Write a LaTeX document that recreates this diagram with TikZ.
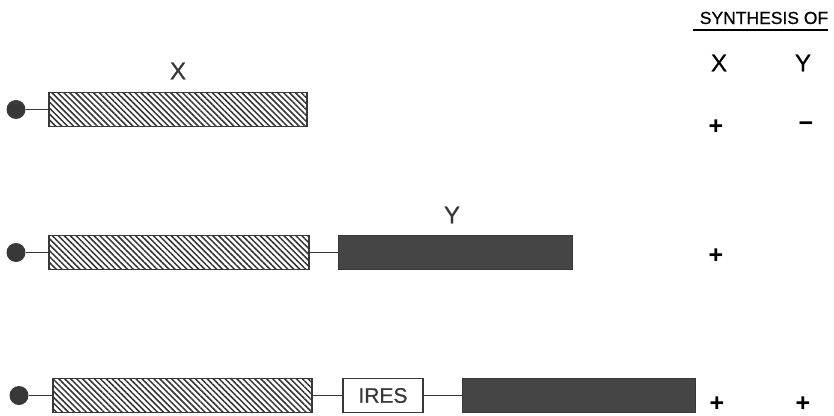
\documentclass[tikz,border=0pt]{standalone}
\usepackage{fontspec}
\setmainfont{Liberation Sans}
\newfontfamily\labelfont[FakeBold=0.6]{Liberation Sans}
\usetikzlibrary{patterns.meta}
\definecolor{ink}{gray}{0.22}
\definecolor{solidgene}{gray}{0.27}
\tikzset{
  x=1pt, y=-1pt,
  link/.style={draw=ink, line width=1.3pt},
  capdot/.style={circle, fill=ink, draw=none, minimum size=19pt, inner sep=0pt},
  hatchgene/.style={draw=ink, line width=1.1pt, inner sep=0pt,
    minimum height=34pt,
    pattern={Lines[angle=-45, distance=4.2pt, line width=1.5pt]},
    pattern color=black!80},
  solidbox/.style={draw=ink, fill=solidgene, line width=1pt, inner sep=0pt,
    minimum height=34pt},
  iresbox/.style={draw=ink, fill=white, line width=1.1pt, inner sep=0pt,
    minimum width=80pt, minimum height=34pt,
    font=\labelfont\fontsize{21}{23}\selectfont, text=ink},
  genelabel/.style={inner sep=0pt, font=\labelfont\fontsize{24}{26}\selectfont},
  headlabel/.style={inner sep=0pt, font=\labelfont\fontsize{17.5}{19}\selectfont},
  sign/.style={inner sep=0pt, font=\bfseries\fontsize{25}{27}\selectfont}
}
\begin{document}
\begin{tikzpicture}
\useasboundingbox (0,0) rectangle (834,415);

% table header
\node[headlabel] (head) at (764,18) {SYNTHESIS OF};
\coordinate (ulL) at (693,30);
\coordinate (ulR) at (828,30);
\draw[line width=1.3pt] (ulL) -- (ulR);
\node[genelabel] (colX) at (719,63) {X};
\node[genelabel] (colY) at (803,63) {Y};

% construct 1: capped X only
\node[capdot] (c1) at (16,109.5) {};
\node[hatchgene, minimum width=258pt] (h1) at (178,109.5) {};
\node[genelabel, text=ink] (lx) at (178,71) {X};
\draw[link] (c1) -- (h1.west);
\node[sign] (p1x) at (716,127) {+};
\node[sign] (p1y) at (806,127) {−};

% construct 2: X followed by Y
\node[capdot] (c2) at (16,252.5) {};
\node[hatchgene, minimum width=260pt] (h2) at (179,252.5) {};
\node[solidbox, minimum width=234pt] (d2) at (455,252.5) {};
\node[genelabel, text=ink] (ly) at (452,215) {Y};
\draw[link] (c2) -- (h2.west);
\draw[link] (h2.east) -- (d2.west);
\node[sign] (p2x) at (716,256) {+};

% construct 3: X, IRES, Y
\node[capdot] (c3) at (19,395.5) {};
\node[hatchgene, minimum width=259pt] (h3) at (182.5,395.5) {};
\node[iresbox] (ires) at (383,395.5) {IRES};
\node[solidbox, minimum width=233pt] (d3) at (578.5,395.5) {};
\draw[link] (c3) -- (h3.west);
\draw[link] (h3.east) -- (ires.west);
\draw[link] (ires.east) -- (d3.west);
\node[sign] (p3x) at (717,404) {+};
\node[sign] (p3y) at (803,404) {+};
\end{tikzpicture}
\end{document}
